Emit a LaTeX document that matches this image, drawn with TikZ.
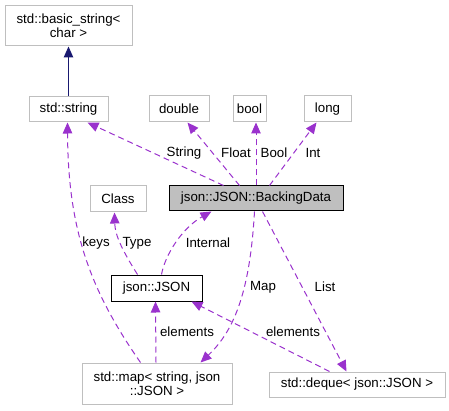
\documentclass[tikz,border=0pt]{standalone}
\usepackage{fontspec}
\setmainfont{Liberation Sans}
\usetikzlibrary{arrows.meta}
\definecolor{edgep}{HTML}{9A32CD}
\definecolor{navyb}{HTML}{191970}
\definecolor{boxg}{HTML}{BFBFBF}
\begin{document}
\begin{tikzpicture}[x=1pt,y=-1pt,
  font=\fontsize{13.3}{14.5}\selectfont,
  box/.style={draw=boxg, line width=1pt, fill=white, inner sep=0pt, align=center},
  blackbox/.style={draw=black, line width=1pt, fill=white, inner sep=0pt, align=center},
  pe/.style={draw=edgep, line width=1pt, dash pattern=on 6pt off 4pt,
    -{Triangle[length=11pt,width=9.5pt,fill=edgep]}},
  ne/.style={draw=navyb, line width=1pt,
    -{Triangle[length=11pt,width=9.5pt,fill=navyb]}},
  lbl/.style={inner sep=0pt}]
\useasboundingbox (0,0) rectangle (449,411);
% nodes
\node[box, minimum width=127pt, minimum height=40pt] (bstr) at (68.5,26) {std::basic\_string<\\char >};
\node[box, minimum width=79pt, minimum height=25pt] (str) at (68.5,109.5) {std::string};
\node[box, minimum width=60pt, minimum height=26pt] (dbl) at (179,109) {double};
\node[box, minimum width=33pt, minimum height=26pt] (bool) at (249.5,109) {bool};
\node[box, minimum width=47pt, minimum height=26pt] (long) at (327.5,109) {long};
\node[draw=black, line width=1pt, fill=boxg, inner sep=0pt, minimum width=174pt, minimum height=25pt] (bd) at (256,198.5) {json::JSON::BackingData};
\node[box, minimum width=56pt, minimum height=26pt] (cls) at (118,199) {Class};
\node[blackbox, minimum width=91pt, minimum height=26pt] (json) at (156.5,288) {json::JSON};
\node[box, minimum width=150pt, minimum height=41pt] (map) at (157,383.5) {std::map< string, json\\::JSON >};
\node[box, minimum width=176pt, minimum height=25pt] (deq) at (357,384.5) {std::deque< json::JSON >};
% edges
\draw[ne] (str.north) -- (bstr.south);
\draw[pe] ([xshift=55pt]bd.north west) -- ([xshift=59pt]str.south west);
\draw[pe] ([xshift=71pt]bd.north west) -- ([xshift=39pt]dbl.south west);
\draw[pe] ([xshift=87.5pt]bd.north west) -- ([xshift=23.5pt]bool.south west);
\draw[pe] ([xshift=101pt]bd.north west) -- ([xshift=13pt]long.south west);
\draw[pe] ([xshift=27pt]json.north west) .. controls (122,250) and (115,235) .. ([xshift=25pt]cls.south west);
\draw[pe] ([xshift=51pt]json.north west) .. controls (165,255) and (182,228) .. ([xshift=43pt]bd.south west);
\draw[pe] ([xshift=59pt]map.north west) .. controls (90,290) and (68,230) .. ([xshift=39pt]str.south west);
\draw[pe] ([xshift=74.5pt]map.north west) -- ([xshift=45pt]json.south west);
\draw[pe] ([xshift=86pt]bd.south west) .. controls (250,290) and (235,330) .. ([xshift=119pt]map.north west);
\draw[pe] ([xshift=94pt]bd.south west) -- ([xshift=78pt]deq.north west);
\draw[pe] ([xshift=61pt]deq.north west) -- ([xshift=81pt]json.south west);
% labels
\node[lbl] (lString) at (184,153) {String};
\node[lbl] (lFloat) at (236,153) {Float};
\node[lbl] (lBool) at (274,153) {Bool};
\node[lbl] (lInt) at (313,153) {Int};
\node[lbl] (lkeys) at (96,243) {keys};
\node[lbl] (lType) at (137,243) {Type};
\node[lbl] (lInternal) at (208,243) {Internal};
\node[lbl] (lMap) at (263,287) {Map};
\node[lbl] (lList) at (325,287) {List};
\node[lbl] (lel1) at (187,332) {elements};
\node[lbl] (lel2) at (293,332) {elements};
\end{tikzpicture}
\end{document}
